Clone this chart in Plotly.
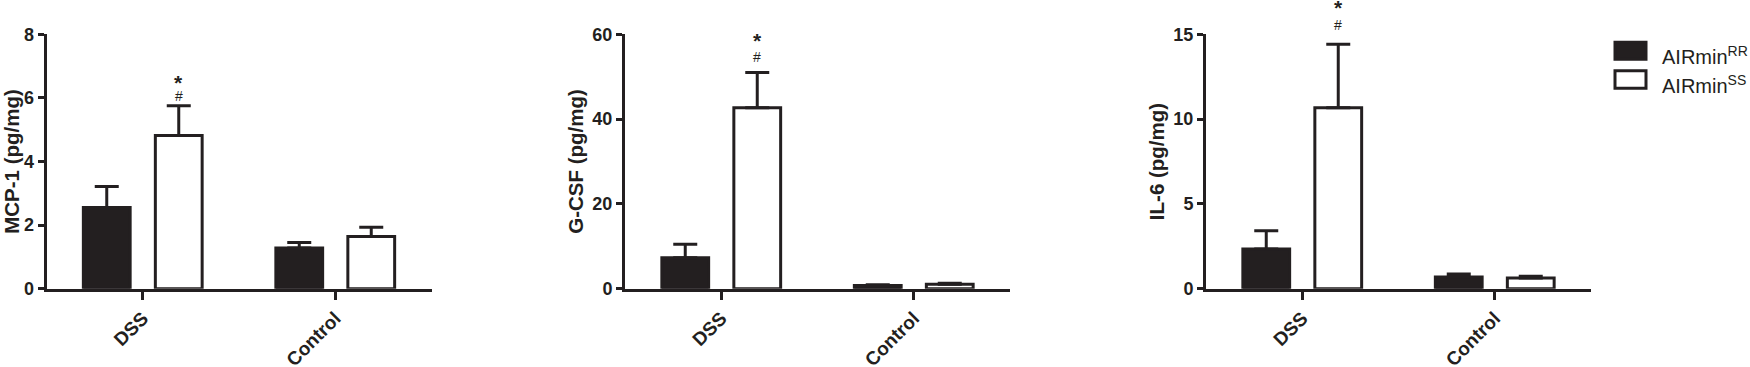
import plotly.graph_objects as go

# ---------------- data ----------------
categories = ["DSS", "Control"]
series_names = ["AIRmin<sup>RR</sup>", "AIRmin<sup>SS</sup>"]

panel_titles = ["MCP-1 (pg/mg)", "G-CSF (pg/mg)", "IL-6 (pg/mg)"]

mcp1_rr = [2.55, 1.28]
mcp1_rr_err = [0.66, 0.17]
mcp1_ss = [4.82, 1.64]
mcp1_ss_err = [0.93, 0.29]

gcsf_rr = [7.3, 0.75]
gcsf_rr_err = [3.17, 0.2]
gcsf_ss = [42.7, 1.05]
gcsf_ss_err = [8.3, 0.25]

il6_rr = [2.34, 0.69]
il6_rr_err = [1.07, 0.17]
il6_ss = [10.67, 0.63]
il6_ss_err = [3.74, 0.1]

y_max = [8, 60, 15]
y_ticks = [[0, 2, 4, 6, 8], [0, 20, 40, 60], [0, 5, 10, 15]]

# significance marks above AIRmin SS / DSS bar
sig_hash = "#"
sig_star = "*"

# ---------------- style ----------------
W, H = 1750, 367
DARK = "#231f20"
FONT = "Liberation Sans"
plot_left_px = [46.5, 625, 1206]
plot_w_px = 385
plot_top_px, plot_bot_px = 34.3, 288.7
bargap = 0.252
bargroupgap = 0.35
hash_shift = [10, 15, 19]   # px above error cap
star_shift = [26, 35, 40]

panels = [
    (mcp1_rr, mcp1_rr_err, mcp1_ss, mcp1_ss_err),
    (gcsf_rr, gcsf_rr_err, gcsf_ss, gcsf_ss_err),
    (il6_rr, il6_rr_err, il6_ss, il6_ss_err),
]

fig = go.Figure()
annotations = []
layout_axes = {}
ydom = [1 - plot_bot_px / H, 1 - plot_top_px / H]

for i, (rr, rre, ss, sse) in enumerate(panels):
    n = "" if i == 0 else str(i + 1)
    xa, ya = "x" + n, "y" + n
    for vals, errs, fill, name in [(rr, rre, DARK, series_names[0]),
                                   (ss, sse, "white", series_names[1])]:
        fig.add_trace(go.Bar(
            x=categories, y=vals, name=name, xaxis=xa, yaxis=ya,
            marker=dict(color=fill, line=dict(color=DARK, width=3)),
            error_y=dict(type="data", array=errs, arrayminus=[0] * len(errs),
                         symmetric=False, color=DARK, thickness=3, width=12),
            showlegend=False, cliponaxis=False,
        ))
    x0 = plot_left_px[i] / W
    x1 = (plot_left_px[i] + plot_w_px) / W
    layout_axes["xaxis" + n] = dict(
        domain=[x0, x1], anchor=ya, type="category", range=[-0.5, 1.5],
        showline=True, linecolor=DARK, linewidth=3, ticks="outside",
        ticklen=8, tickwidth=3, tickcolor=DARK, tickangle=-45,
        tickfont=dict(family=FONT, size=19, color=DARK, weight="bold"),
        showgrid=False, zeroline=False, fixedrange=True, automargin=False,
    )
    layout_axes["yaxis" + n] = dict(
        domain=ydom, anchor=xa, range=[0, y_max[i]], tickvals=y_ticks[i],
        showline=True, linecolor=DARK, linewidth=3, ticks="outside",
        ticklen=6, tickwidth=3, tickcolor=DARK,
        tickfont=dict(family=FONT, size=18, color=DARK, weight="bold"),
        title=dict(text=panel_titles[i], standoff=4,
                   font=dict(family=FONT, size=20.5, color=DARK, weight="bold")),
        showgrid=False, zeroline=False, fixedrange=True, automargin=False,
    )
    # significance marks over the SS DSS bar
    offset = (1 - bargap) / 4
    top = ss[0] + sse[0]
    annotations.append(dict(x=0 + offset, y=top, xref=xa, yref=ya, text=sig_hash,
                            showarrow=False, yshift=hash_shift[i], yanchor="middle",
                            font=dict(family=FONT, size=14, color=DARK)))
    annotations.append(dict(x=0 + offset, y=top, xref=xa, yref=ya, text=sig_star,
                            showarrow=False, yshift=star_shift[i] - 3, yanchor="middle",
                            font=dict(family=FONT, size=21, color=DARK, weight="bold")))

# ---------------- custom legend ----------------
shapes = []
leg_x0, leg_x1 = 1615 / W, 1646 / W
leg_rows = [(42.3, 59.3), (70.7, 88.3)]
leg_fill = [DARK, "white"]
for (t, b), fill, name in zip(leg_rows, leg_fill, series_names):
    shapes.append(dict(type="rect", xref="paper", yref="paper",
                       x0=leg_x0, x1=leg_x1, y0=1 - b / H, y1=1 - t / H,
                       fillcolor=fill, line=dict(color=DARK, width=3)))
    annotations.append(dict(x=1660 / W, y=1 - ((t + b) / 2 + 5) / H, xref="paper", yref="paper",
                            text=name, showarrow=False, xanchor="left", yanchor="middle",
                            font=dict(family=FONT, size=20, color=DARK)))

fig.update_layout(
    width=W, height=H, margin=dict(l=0, r=0, t=0, b=0, pad=0, autoexpand=False),
    paper_bgcolor="white", plot_bgcolor="white",
    barmode="group", bargap=bargap, bargroupgap=bargroupgap,
    annotations=annotations, shapes=shapes, showlegend=False,
    font=dict(family=FONT, color=DARK),
    **layout_axes,
)

fig.write_html("out.html",
               config={"displayModeBar": False},
               post_script="document.body.style.margin='0px';"
                           "document.body.style.overflow='hidden';")
